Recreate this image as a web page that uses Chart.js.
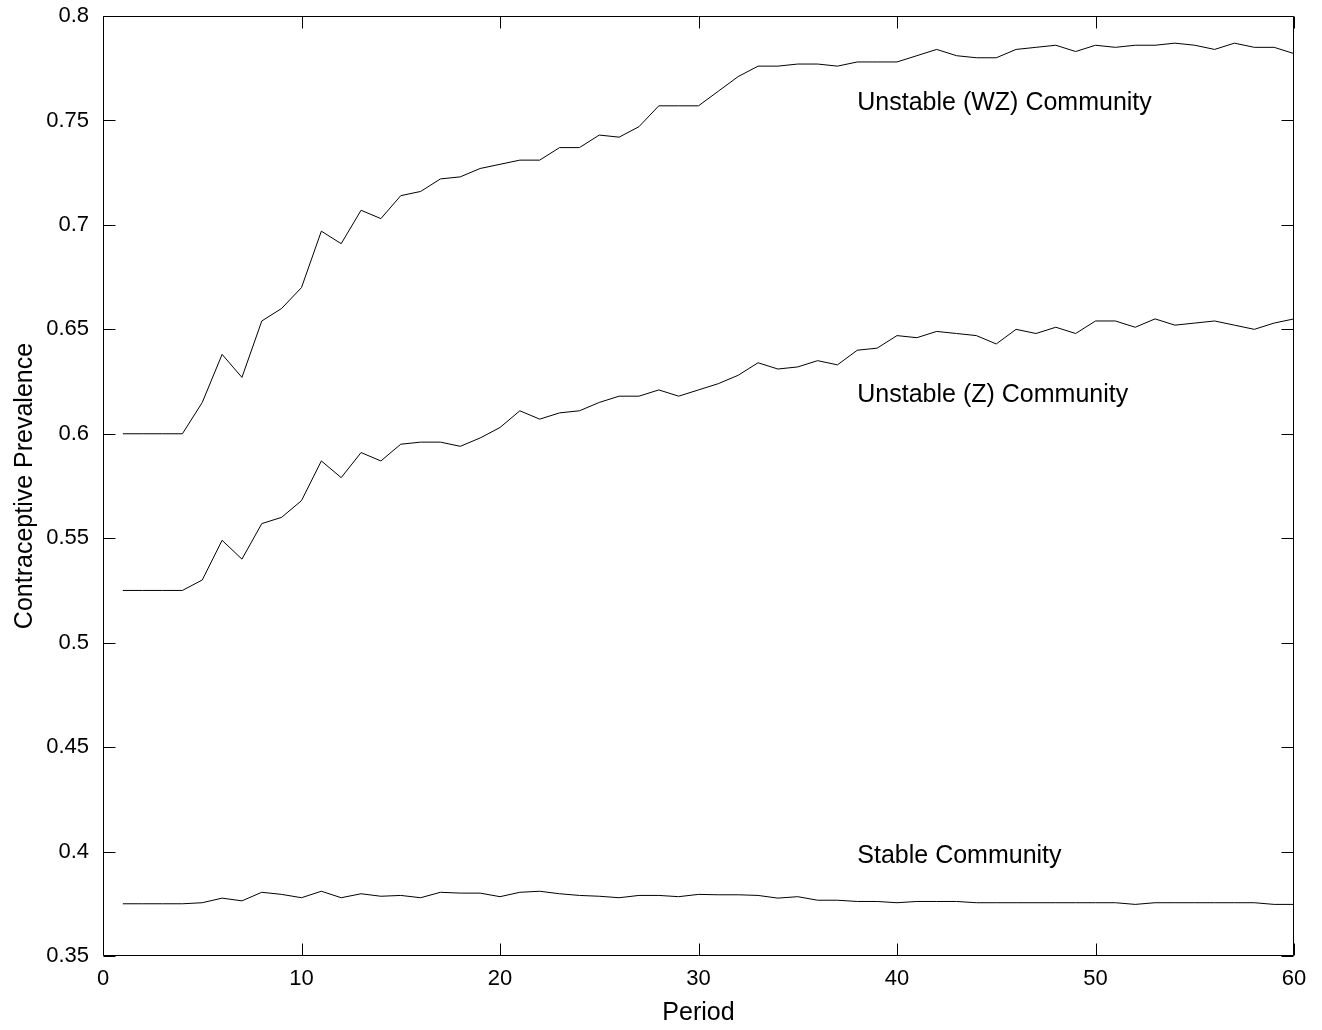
<!DOCTYPE html>
<html>
<head>
<meta charset="utf-8">
<title>Contraceptive Prevalence</title>
<script src="https://cdn.jsdelivr.net/npm/chart.js@4.4.1/dist/chart.umd.min.js"></script>
<style>
  html, body { margin: 0; padding: 0; background: #fff; }
  #wrap { width: 1322px; height: 1030px; position: relative; }
</style>
</head>
<body>
<div id="wrap"><canvas id="prevalence-chart" width="1322" height="1030"></canvas></div>
<script>
const periods = [
  1, 2, 3, 4, 5, 6, 7, 8, 9, 10, 11, 12, 13, 14, 15, 16, 17, 18, 19, 20,
  21, 22, 23, 24, 25, 26, 27, 28, 29, 30, 31, 32, 33, 34, 35, 36, 37, 38, 39, 40,
  41, 42, 43, 44, 45, 46, 47, 48, 49, 50, 51, 52, 53, 54, 55, 56, 57, 58, 59, 60
];

const unstableWZ = [
  0.600, 0.600, 0.600, 0.600, 0.615, 0.638, 0.627, 0.654, 0.660, 0.670,
  0.697, 0.691, 0.707, 0.703, 0.714, 0.716, 0.722, 0.723, 0.727, 0.729,
  0.731, 0.731, 0.737, 0.737, 0.743, 0.742, 0.747, 0.757, 0.757, 0.757,
  0.764, 0.771, 0.776, 0.776, 0.777, 0.777, 0.776, 0.778, 0.778, 0.778,
  0.781, 0.784, 0.781, 0.780, 0.780, 0.784, 0.785, 0.786, 0.783, 0.786,
  0.785, 0.786, 0.786, 0.787, 0.786, 0.784, 0.787, 0.785, 0.785, 0.782
];

const unstableZ = [
  0.525, 0.525, 0.525, 0.525, 0.530, 0.549, 0.540, 0.557, 0.560, 0.568,
  0.587, 0.579, 0.591, 0.587, 0.595, 0.596, 0.596, 0.594, 0.598, 0.603,
  0.611, 0.607, 0.610, 0.611, 0.615, 0.618, 0.618, 0.621, 0.618, 0.621,
  0.624, 0.628, 0.634, 0.631, 0.632, 0.635, 0.633, 0.640, 0.641, 0.647,
  0.646, 0.649, 0.648, 0.647, 0.643, 0.650, 0.648, 0.651, 0.648, 0.654,
  0.654, 0.651, 0.655, 0.652, 0.653, 0.654, 0.652, 0.650, 0.653, 0.655
];

const stable = [
  0.3750, 0.3750, 0.3750, 0.3750, 0.3755, 0.3777, 0.3764, 0.3805, 0.3795, 0.3779,
  0.3810, 0.3779, 0.3798, 0.3786, 0.3790, 0.3779, 0.3805, 0.3801, 0.3801, 0.3784,
  0.3805, 0.3810, 0.3798, 0.3790, 0.3786, 0.3779, 0.3790, 0.3790, 0.3784, 0.3795,
  0.3793, 0.3793, 0.3790, 0.3777, 0.3784, 0.3767, 0.3767, 0.3761, 0.3761, 0.3755,
  0.3761, 0.3761, 0.3761, 0.3755, 0.3755, 0.3755, 0.3755, 0.3755, 0.3755, 0.3755,
  0.3755, 0.3747, 0.3755, 0.3755, 0.3755, 0.3755, 0.3755, 0.3755, 0.3747, 0.3747
];

const seriesNames = ['Unstable (WZ) Community', 'Unstable (Z) Community', 'Stable Community'];
const labelPeriod = [38, 38, 38];
const labelValue = [0.7585, 0.6185, 0.398];

const FONT = '"Liberation Sans", Arial, Helvetica, sans-serif';

const toPoints = (values) => values.map((v, i) => ({ x: periods[i], y: v }));

// MATLAB-like box with inward ticks on all four sides, plus the curve labels
const boxPlugin = {
  id: 'boxPlugin',
  afterDraw(chart) {
    const { ctx, chartArea: a, scales } = chart;
    const left = Math.round(a.left) + 0.5;
    const right = Math.round(a.right) - 0.5;
    const top = Math.round(a.top) + 0.5;
    const bottom = Math.round(a.bottom) - 0.5;
    const len = 12;

    ctx.save();
    ctx.strokeStyle = '#000';
    ctx.lineWidth = 1;
    ctx.beginPath();
    ctx.rect(left, top, right - left, bottom - top);

    scales.x.ticks.forEach(t => {
      const px = Math.round(scales.x.getPixelForValue(t.value)) + 0.5;
      ctx.moveTo(px, bottom);
      ctx.lineTo(px, bottom - len);
      ctx.moveTo(px, top);
      ctx.lineTo(px, top + len);
    });
    scales.y.ticks.forEach(t => {
      const py = Math.round(scales.y.getPixelForValue(t.value)) + 0.5;
      ctx.moveTo(left, py);
      ctx.lineTo(left + len, py);
      ctx.moveTo(right, py);
      ctx.lineTo(right - len, py);
    });
    ctx.stroke();

    ctx.fillStyle = '#000';
    ctx.font = '25px ' + FONT;
    ctx.textAlign = 'left';
    ctx.textBaseline = 'middle';
    seriesNames.forEach((name, i) => {
      ctx.fillText(name, scales.x.getPixelForValue(labelPeriod[i]), scales.y.getPixelForValue(labelValue[i]));
    });
    ctx.restore();
  }
};

const lineStyle = {
  borderColor: '#000',
  borderWidth: 1,
  pointRadius: 0,
  fill: false,
  tension: 0
};

new Chart(document.getElementById('prevalence-chart'), {
  type: 'line',
  data: {
    datasets: [
      { label: seriesNames[0], data: toPoints(unstableWZ), ...lineStyle },
      { label: seriesNames[1], data: toPoints(unstableZ), ...lineStyle },
      { label: seriesNames[2], data: toPoints(stable), ...lineStyle }
    ]
  },
  options: {
    responsive: false,
    animation: false,
    devicePixelRatio: 1,
    layout: { padding: { top: 16, right: 28, left: 0, bottom: 0 } },
    plugins: {
      legend: { display: false },
      tooltip: { enabled: false }
    },
    scales: {
      x: {
        type: 'linear',
        min: 0,
        max: 60,
        grid: { display: false, drawTicks: false },
        border: { display: false },
        ticks: {
          stepSize: 10,
          padding: 10,
          color: '#000',
          font: { family: FONT, size: 22 },
          maxRotation: 0
        },
        title: {
          display: true,
          text: 'Period',
          color: '#000',
          font: { family: FONT, size: 25 },
          padding: { top: 2, bottom: 2 }
        },
        afterFit(scale) {
          scale.height = 74;
          scale.paddingLeft = 0;
          scale.paddingRight = 0;
        }
      },
      y: {
        type: 'linear',
        min: 0.35,
        max: 0.8,
        grid: { display: false, drawTicks: false },
        border: { display: false },
        ticks: {
          stepSize: 0.05,
          padding: 14,
          color: '#000',
          font: { family: FONT, size: 22 },
          callback: (v) => Number(v.toFixed(2)).toString()
        },
        title: {
          display: true,
          text: 'Contraceptive Prevalence',
          color: '#000',
          font: { family: FONT, size: 25 },
          padding: { top: 10, bottom: 4 }
        },
        afterFit(scale) {
          scale.width = 103;
          scale.paddingTop = 0;
          scale.paddingBottom = 0;
        }
      }
    }
  },
  plugins: [boxPlugin]
});
</script>
</body>
</html>
